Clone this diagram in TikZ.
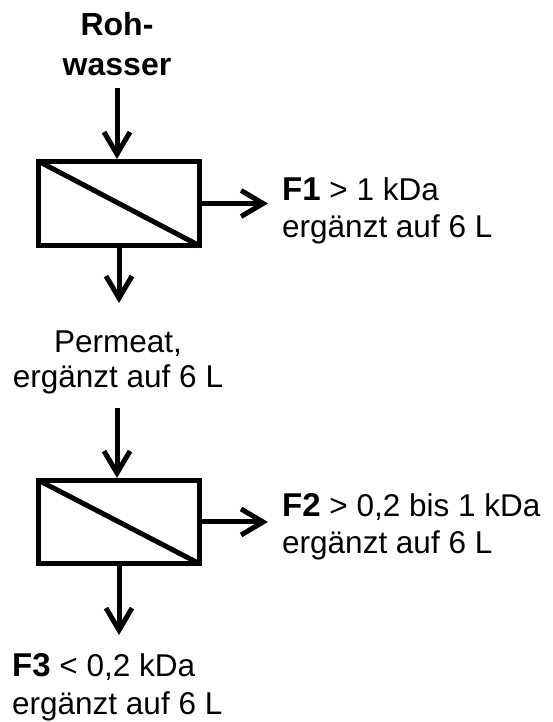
\documentclass[tikz,border=0pt]{standalone}
\usepackage{fontspec}
\setmainfont{Liberation Sans}
\usetikzlibrary{arrows.meta}
% bold fraction name, set slightly larger than the running text
\newcommand{\fracname}[1]{{\fontsize{33}{37}\selectfont\bfseries #1}}
\begin{document}
\begin{tikzpicture}[x=1pt,y=1pt,
  membrane/.style={draw, line width=5pt, minimum width=161pt, minimum height=84pt, inner sep=0pt},
  diag/.style={line width=5pt},
  flow/.style={line width=5pt, -{Straight Barb[length=22pt,width=26pt]}},
  lbl/.style={font=\fontsize{31.5}{37}\selectfont, inner sep=0pt},
  ttl/.style={font=\fontsize{32}{40}\selectfont\bfseries, inner sep=0pt}]
\useasboundingbox (0,0) rectangle (553,722);

% membrane modules (box with diagonal membrane, ending at the inner corners)
\node[membrane] (m1) at (119,518.5) {};
\draw[diag] ([shift={(2,-2)}]m1.north west) -- ([shift={(-2,2)}]m1.south east);
\node[membrane, minimum height=83pt] (m2) at (119,200) {};
\draw[diag] ([shift={(2,-2)}]m2.north west) -- ([shift={(-2,2)}]m2.south east);

% feed
\node[ttl, anchor=base] (roh1) at (117,686) {Roh-};
\node[ttl, anchor=base] (roh2) at (117,646) {wasser};

% retentate / permeate labels
\node[lbl, anchor=base west] (f1a) at (282,521) {\fracname{F1} > 1 kDa};
\node[lbl, anchor=base west] (f1b) at (282,484) {ergänzt auf 6 L};
\node[lbl, anchor=base] (p1a) at (118,369) {Permeat,};
\node[lbl, anchor=base] (p1b) at (118,334) {ergänzt auf 6 L};
\node[lbl, anchor=base west] (f2a) at (282,205) {\fracname{F2} > 0,2 bis 1 kDa};
\node[lbl, anchor=base west] (f2b) at (282,168) {ergänzt auf 6 L};
\node[lbl, anchor=base west] (f3a) at (12,45) {\fracname{F3} < 0,2 kDa};
\node[lbl, anchor=base west] (f3b) at (12,8) {ergänzt auf 6 L};

% flow arrows
\coordinate (in1) at (117,634);
\coordinate (out1) at (119,419);
\coordinate (ret1) at (268,518.5);
\coordinate (in2) at (117,314);
\coordinate (out2) at (119,87);
\coordinate (ret2) at (268,200);
\draw[flow] (in1) -- (in1 |- m1.north);
\draw[flow] (m1.south) -- (out1);
\draw[flow] (m1.east) -- (ret1);
\draw[flow] (in2) -- (in2 |- m2.north);
\draw[flow] (m2.south) -- (out2);
\draw[flow] (m2.east) -- (ret2);
\end{tikzpicture}
\end{document}
